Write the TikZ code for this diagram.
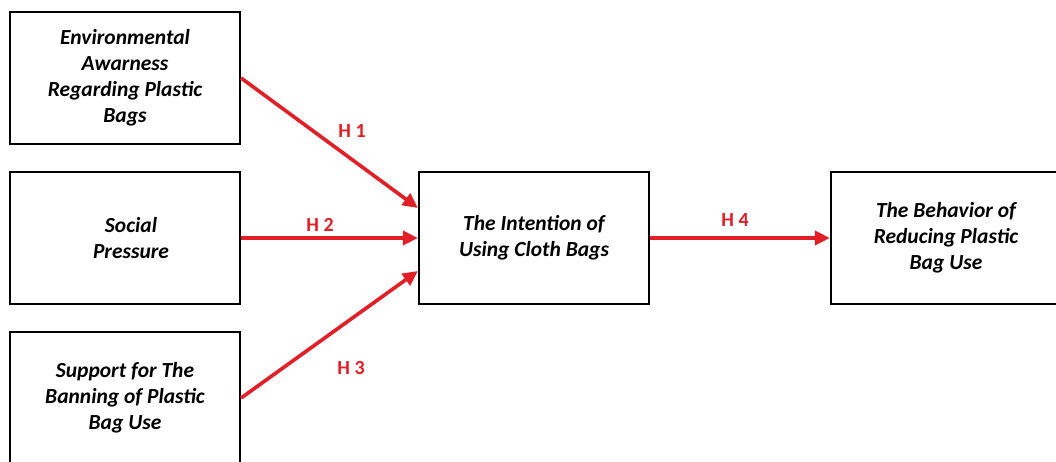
\documentclass[tikz,border=0pt]{standalone}
\usepackage{fontspec}
\setmainfont{Carlito}
\usetikzlibrary{arrows.meta,calc}
\definecolor{arrowred}{RGB}{226,30,38}
\begin{document}
\begin{tikzpicture}[x=1pt,y=-1pt,
  box/.style={draw=black,line width=2.2pt,rectangle,minimum width=230pt,minimum height=132pt,
    inner sep=0pt,align=center,font=\fontsize{21.5}{26}\selectfont\bfseries\itshape},
  link/.style={draw=arrowred,line width=3.6pt,-{Triangle[length=15pt,width=14pt]}},
  hlabel/.style={text=arrowred,font=\fontsize{20}{22}\selectfont\bfseries,inner sep=0pt}]
\useasboundingbox (0,0) rectangle (1056,461);
\clip (0,0) rectangle (1056,461);
\fill[white] (0,0) rectangle (1056,461);
\node[box] (env) at (125,78) {Environmental\\Awarness\\Regarding Plastic\\Bags};
\node[box] (soc) at (125,238) {\hspace*{12pt}Social\\\hspace*{12pt}Pressure};
\node[box] (sup) at (125,398) {Support for The\\Banning of Plastic\\Bag Use};
\node[box] (int) at (534,238) {The Intention of\\Using Cloth Bags};
\node[box] (beh) at (946,238) {The Behavior of\\Reducing Plastic\\Bag Use};
\coordinate (inA) at ($(int.west)+(0,-30)$);
\coordinate (inC) at ($(int.west)+(0,33)$);
\draw[link] (env.east) -- (inA);
\draw[link] (soc.east) -- (int.west);
\draw[link] (sup.east) -- (inC);
\draw[link] (int.east) -- (beh.west);
\node[hlabel] (h1) at (352,131) {H 1};
\node[hlabel] (h2) at (320,225) {H 2};
\node[hlabel] (h3) at (351,368) {H 3};
\node[hlabel] (h4) at (735,220) {H 4};
\end{tikzpicture}
\end{document}
